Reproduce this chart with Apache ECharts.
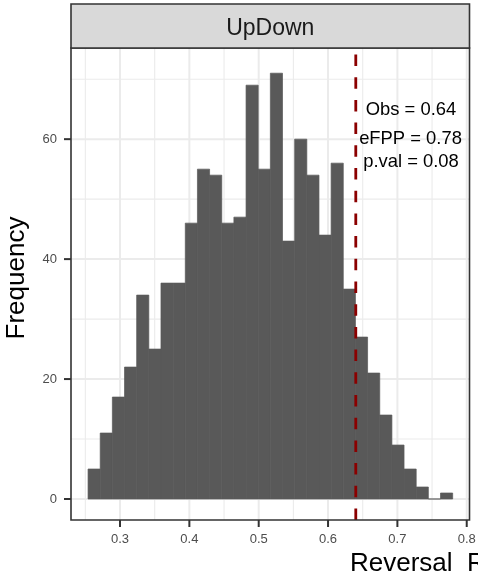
<!DOCTYPE html>
<html><head><meta charset="utf-8">
<script src="https://cdn.jsdelivr.net/npm/echarts@6/dist/echarts.min.js"></script>
<style>html,body{margin:0;padding:0;background:#fff}#c{width:478px;height:580px}</style>
</head><body><div id="c"></div>
<script>
// ---- data ----
const panelTitle = 'UpDown';
const xTitle = 'Reversal  Rate';
const yTitle = 'Frequency';
const binStart = 0.2539;
const binWidth = 0.017527;
const counts = [5,11,17,22,34,25,36,36,46,55,54,46,47,69,55,71,43,60,54,44,56,35,27,21,14,9,5,2,0,1];
const obsValue = 0.64;
const annotations = ['Obs = 0.64', 'eFPP = 0.78', 'p.val = 0.08'];
const xTicks = [0.3, 0.4, 0.5, 0.6, 0.7, 0.8];
const xMinor = [0.25, 0.35, 0.45, 0.55, 0.65, 0.75];
const yTicks = [0, 20, 40, 60];
const yMinor = [10, 30, 50, 70];
const xRange = [0.2293, 0.804];
const yRange = [-3.5, 75.2];

// ---- layout ----
const FONT = "'Liberation Sans', Arial, sans-serif";
const P = {left: 71, right: 469.5, top: 48, bottom: 520};
const TICK_LEN = 7;

const gridData = [];
xMinor.forEach(v => gridData.push([0, v, 0]));
yMinor.forEach(v => gridData.push([1, v, 0]));
xTicks.forEach(v => gridData.push([0, v, 1]));
yTicks.forEach(v => gridData.push([1, v, 1]));

const tickData = [];
xTicks.forEach(v => tickData.push([0, v]));
yTicks.forEach(v => tickData.push([1, v]));

const chart = echarts.init(document.getElementById('c'), null, {renderer: 'canvas'});
chart.setOption({
  animation: false,
  backgroundColor: '#ffffff',
  grid: {left: P.left, right: 478 - P.right, top: P.top, bottom: 580 - P.bottom, show: false, outerBoundsMode: 'none', containLabel: false},
  xAxis: {
    type: 'value', min: xRange[0], max: xRange[1],
    axisLine: {show: false},
    axisTick: {show: false},
    axisLabel: {customValues: xTicks, color: '#4d4d4d', fontSize: 13, margin: 13, fontFamily: FONT,
      formatter: v => v.toFixed(1)},
    splitLine: {show: false}
  },
  yAxis: {
    type: 'value', min: yRange[0], max: yRange[1],
    axisLine: {show: false},
    axisTick: {show: false},
    axisLabel: {customValues: yTicks, color: '#4d4d4d', fontSize: 13, margin: 14, fontFamily: FONT,
      formatter: v => String(v)},
    splitLine: {show: false}
  },
  series: [
    {
      type: 'custom', z: 1, silent: true,
      data: gridData,
      encode: {x: 1, y: 1},
      renderItem: (params, api) => {
        const o = api.value(0), v = api.value(1), major = api.value(2);
        let a, b;
        if (o === 0) { a = api.coord([v, yRange[0]]); b = api.coord([v, yRange[1]]); }
        else { a = api.coord([xRange[0], v]); b = api.coord([xRange[1], v]); }
        return {type: 'line', shape: {x1: a[0], y1: a[1], x2: b[0], y2: b[1]},
          style: {stroke: '#ebebeb', lineWidth: major ? 2 : 1.1}};
      }
    },
    {
      type: 'custom', z: 2, silent: true,
      data: counts.map((c, i) => [i, c]),
      encode: {x: 0, y: 1},
      renderItem: (params, api) => {
        const i = api.value(0), c = api.value(1);
        const lo = binStart + i * binWidth, hi = lo + binWidth;
        const p0 = api.coord([lo, 0]), p1 = api.coord([hi, c]);
        return {type: 'rect', shape: {x: p0[0], y: p1[1], width: p1[0] - p0[0], height: p0[1] - p1[1]},
          style: {fill: '#595959', stroke: '#595959', lineWidth: 0.7}};
      }
    },
    {
      type: 'custom', z: 3, silent: true,
      data: [[obsValue]],
      encode: {x: 0},
      renderItem: (params, api) => {
        const v = api.value(0);
        const a = api.coord([v, yRange[0]]), b = api.coord([v, yRange[1]]);
        return {type: 'line', shape: {x1: a[0], y1: a[1], x2: b[0], y2: b[1]},
          style: {stroke: '#8b0000', lineWidth: 2.8, lineDash: [11.5, 11.2]}};
      }
    },
    {
      type: 'custom', z: 4, silent: true, clip: false,
      data: tickData,
      encode: {x: 1, y: 1},
      renderItem: (params, api) => {
        const o = api.value(0), v = api.value(1);
        let shape;
        if (o === 0) { const p = api.coord([v, yRange[0]]); shape = {x1: p[0], y1: p[1], x2: p[0], y2: p[1] + TICK_LEN}; }
        else { const p = api.coord([xRange[0], v]); shape = {x1: p[0] - TICK_LEN, y1: p[1], x2: p[0], y2: p[1]}; }
        return {type: 'line', shape: shape, style: {stroke: '#333333', lineWidth: 2}};
      }
    }
  ],
  graphic: [
    {type: 'rect', z: 100, silent: true,
      shape: {x: P.left, y: P.top, width: P.right - P.left, height: P.bottom - P.top},
      style: {fill: 'none', stroke: '#333333', lineWidth: 1.6}},
    {type: 'rect', z: 101, silent: true,
      shape: {x: P.left, y: 4, width: P.right - P.left, height: P.top - 4},
      style: {fill: '#d9d9d9', stroke: '#333333', lineWidth: 1.6}},
    {type: 'text', z: 102, silent: true, x: (P.left + P.right) / 2, y: 28.7,
      style: {text: panelTitle, fill: '#1a1a1a', font: '23px ' + FONT, textAlign: 'center', textVerticalAlign: 'middle'}},
    {type: 'text', z: 102, silent: true, x: 411, y: 109.7,
      style: {text: annotations[0], fill: '#000', font: '18.4px ' + FONT, textAlign: 'center', textVerticalAlign: 'middle'}},
    {type: 'text', z: 102, silent: true, x: 410.5, y: 138.7,
      style: {text: annotations[1], fill: '#000', font: '18.4px ' + FONT, textAlign: 'center', textVerticalAlign: 'middle'}},
    {type: 'text', z: 102, silent: true, x: 411, y: 162,
      style: {text: annotations[2], fill: '#000', font: '18.4px ' + FONT, textAlign: 'center', textVerticalAlign: 'middle'}},
    {type: 'text', z: 102, silent: true, x: 17, y: 278, rotation: Math.PI / 2,
      style: {text: yTitle, fill: '#000', font: '26px ' + FONT, textAlign: 'center', textVerticalAlign: 'middle'}},
    {type: 'text', z: 102, silent: true, x: 350, y: 564,
      style: {text: xTitle, fill: '#000', font: '26px ' + FONT, textAlign: 'left', textVerticalAlign: 'middle'}}
  ]
});
</script>
</body></html>
